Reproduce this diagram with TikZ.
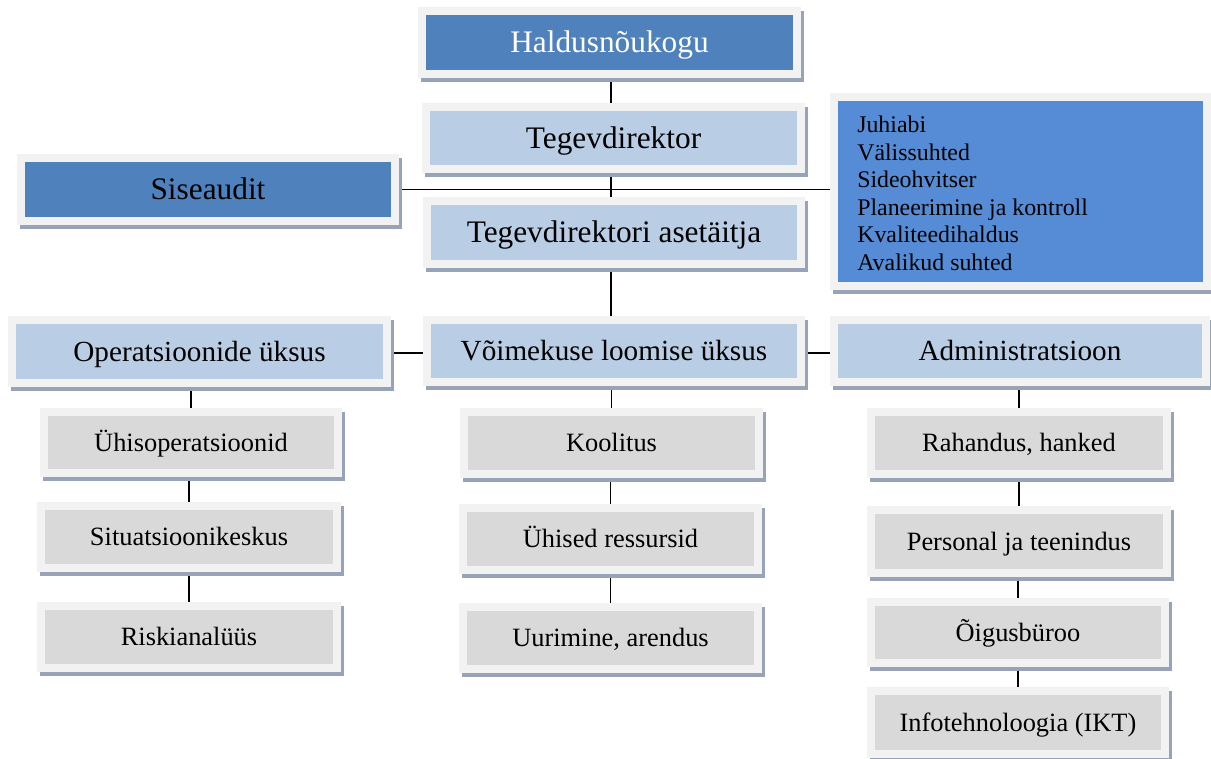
\documentclass[tikz,border=0pt]{standalone}
\usepackage{fontspec}
\setmainfont{Liberation Serif}
\usetikzlibrary{backgrounds}

\definecolor{darkblue}{HTML}{4F81BD}
\definecolor{staffblue}{HTML}{558CD5}
\definecolor{lightblue}{HTML}{B9CDE5}
\definecolor{lightgray}{HTML}{D9D9D9}
\definecolor{framec}{HTML}{F2F2F2}
\definecolor{shadowc}{HTML}{97A4B8}

% box from outer frame corners (x1,y1)-(x2,y2), given in px
\newcommand\orgbox[7]{%
  \pgfmathsetmacro\cx{(#2+#4)/2}%
  \pgfmathsetmacro\cy{(#3+#5)/2}%
  \pgfmathsetmacro\bw{(#4-#2-8)*0.75}%
  \pgfmathsetmacro\bh{(#5-#3-8)*0.75}%
  \node[#6, minimum width=\bw pt, minimum height=\bh pt] (#1) at (\cx,\cy) {#7};}

\tikzset{
  framed/.style={draw=framec, line width=6pt, inner sep=0pt, text depth=0pt,
    preaction={draw=shadowc, fill=shadowc, line width=6pt,
      transform canvas={xshift=2.25pt, yshift=-3pt}}},
  topbox/.style={framed, font=\fontsize{23.5pt}{28pt}\selectfont, text height=15.4pt},
  unitbox/.style={framed, font=\fontsize{21.9pt}{26pt}\selectfont, text height=14.4pt},
  subbox/.style={framed, fill=lightgray, font=\fontsize{19.8pt}{24pt}\selectfont, text height=13.1pt},
  link/.style={draw=black, line width=1.45pt},
}

\begin{document}
\begin{tikzpicture}[x=0.75pt, y=-0.75pt]
\useasboundingbox (0,0) rectangle (1211,759);

% top of the hierarchy
\orgbox{hal}{418}{7}{801}{78}{topbox, fill=darkblue, text=white}{Haldusnõukogu}
\orgbox{teg}{422}{103}{805}{173}{topbox, fill=lightblue}{Tegevdirektor}
\orgbox{sise}{17}{154}{399}{225}{topbox, fill=darkblue}{Siseaudit}
\orgbox{aset}{423}{197}{805}{268}{topbox, fill=lightblue}{Tegevdirektori asetäitja}
\orgbox{staff}{830}{93}{1211}{290}{framed, fill=staffblue}{}
\node[anchor=north west, align=left, inner sep=0pt,
      font=\fontsize{17.9pt}{20.6pt}\selectfont] (stafftext) at (857,116)
  {Juhiabi\\Välissuhted\\Sideohvitser\\Planeerimine ja kontroll\\Kvaliteedihaldus\\Avalikud suhted};

% units
\orgbox{op}{8}{316}{391}{387}{unitbox, fill=lightblue}{Operatsioonide üksus}
\orgbox{vo}{423}{316}{805}{386}{unitbox, fill=lightblue}{Võimekuse loomise üksus}
\orgbox{adm}{830}{316}{1210}{386}{unitbox, fill=lightblue}{Administratsioon}

% operations
\orgbox{u1}{40}{408}{342}{477}{subbox}{Ühisoperatsioonid}
\orgbox{u2}{37}{502}{341}{572}{subbox}{Situatsioonikeskus}
\orgbox{u3}{37}{602}{341}{672}{subbox}{Riskianalüüs}

% capability
\orgbox{k1}{460}{408}{763}{478}{subbox}{Koolitus}
\orgbox{k2}{459}{504}{762}{574}{subbox}{Ühised ressursid}
\orgbox{k3}{459}{603}{762}{673}{subbox}{Uurimine, arendus}

% administration
\orgbox{a1}{867}{408}{1171}{478}{subbox}{Rahandus, hanked}
\orgbox{a2}{867}{506}{1171}{577}{subbox}{Personal ja teenindus}
\orgbox{a3}{867}{598}{1169}{667}{subbox}{Õigusbüroo}
\orgbox{a4}{867}{687}{1169}{758}{subbox}{Infotehnoloogia (IKT)}

\coordinate (spine) at (611,0);
\coordinate (unitrow) at (0,353);

\begin{scope}[on background layer]
  \draw[link] (spine |- hal.south) -- (spine |- teg.north);
  \draw[link] (spine |- teg.south) -- (spine |- aset.north);
  \draw[link] (spine |- aset.south) -- (spine |- vo.north);
  \draw[link] (sise.east) -- (sise.east -| staff.west);
  \draw[link] (op.east |- unitrow) -- (vo.west |- unitrow);
  \draw[link] (vo.east |- unitrow) -- (adm.west |- unitrow);
  \draw[link] (u1.north) -- (u1.north |- op.south);
  \draw[link] (u2.north) -- (u2.north |- u1.south);
  \draw[link] (u3.north) -- (u3.north |- u2.south);
  \draw[link] (k1.north) -- (k1.north |- vo.south);
  \draw[link] (k2.north) -- (k2.north |- k1.south);
  \draw[link] (k3.north) -- (k3.north |- k2.south);
  \draw[link] (a1.north) -- (a1.north |- adm.south);
  \draw[link] (a2.north) -- (a2.north |- a1.south);
  \draw[link] (a3.north) -- (a3.north |- a2.south);
  \draw[link] (a4.north) -- (a4.north |- a3.south);
\end{scope}
\end{tikzpicture}
\end{document}
